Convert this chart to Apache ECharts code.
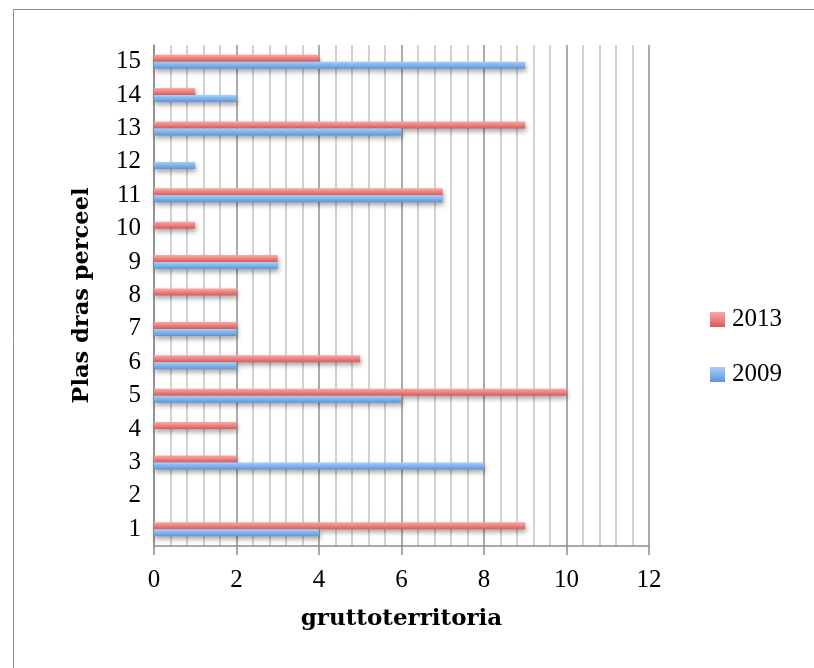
<!DOCTYPE html>
<html>
<head>
<meta charset="utf-8">
<script src="https://cdn.jsdelivr.net/npm/echarts@6/dist/echarts.min.js"></script>
<style>html,body{margin:0;padding:0;background:#fff}#c{width:814px;height:668px}</style>
</head>
<body>
<div id="c"></div>
<script>
const categories = ['1','2','3','4','5','6','7','8','9','10','11','12','13','14','15'];
const values2013 = [9, 0, 2, 2, 10, 5, 2, 2, 3, 1, 7, 0, 9, 1, 4];
const values2009 = [4, 0, 8, 0, 6, 2, 2, 0, 3, 0, 7, 1, 6, 2, 9];
const seriesNames = ['2013', '2009'];
const xTicks = { min: 0, max: 12, interval: 2 };

const font = '"Liberation Serif", "DejaVu Serif", serif';
const titleFont = '"DejaVu Serif", "Liberation Serif", serif';
function grad(c1, c2) {
  return new echarts.graphic.LinearGradient(0, 0, 0, 1, [{offset: 0, color: c1}, {offset: 1, color: c2}]);
}
const redFill = grad('#f9a9a7', '#dc5a56');
const blueFill = grad('#a9cdf8', '#5b97dc');

const chart = echarts.init(document.getElementById('c'));
chart.setOption({
  animation: false,
  graphic: [{
    type: 'rect', shape: {x: 13.5, y: 9.5, width: 812, height: 670},
    style: {fill: 'none', stroke: '#8c8c8c', lineWidth: 1}, silent: true
  }],
  grid: {left: 154, right: 165, top: 45, bottom: 122},
  legend: {
    orient: 'vertical', left: 710, top: 307, itemGap: 30, padding: 0,
    itemWidth: 15, itemHeight: 15, icon: 'rect',
    data: [{name: seriesNames[0], itemStyle: {color: redFill}}, {name: seriesNames[1], itemStyle: {color: blueFill}}],
    textStyle: {fontFamily: font, fontSize: 25, color: '#000', padding: [0, 0, 0, 2]}
  },
  xAxis: {
    type: 'value', min: xTicks.min, max: xTicks.max, interval: xTicks.interval,
    name: 'gruttoterritoria', nameLocation: 'middle', nameGap: 62,
    nameTextStyle: {fontFamily: titleFont, fontSize: 23, fontWeight: 'bold', color: '#000'},
    axisLine: {show: true, lineStyle: {color: '#8c8c8c', width: 1.5}},
    axisTick: {show: true, length: 9, lineStyle: {color: '#8c8c8c', width: 1.5}},
    axisLabel: {fontFamily: font, fontSize: 25, color: '#000', margin: 22},
    splitLine: {show: true, lineStyle: {color: '#8f8f8f', width: 1.5}},
    minorTick: {show: false, splitNumber: 5},
    minorSplitLine: {show: true, lineStyle: {color: '#c4c4c4', width: 1.5}}
  },
  yAxis: {
    type: 'category', data: categories,
    name: 'Plas dras perceel', nameLocation: 'middle', nameGap: 60,
    nameTextStyle: {fontFamily: titleFont, fontSize: 22.5, fontWeight: 'bold', color: '#000'},
    axisLine: {show: true, lineStyle: {color: '#8c8c8c', width: 1.5}},
    axisTick: {show: false},
    axisLabel: {fontFamily: font, fontSize: 25, color: '#000', margin: 13},
    splitLine: {show: false}
  },
  series: [
    {
      name: seriesNames[0], type: 'bar', data: values2013, barWidth: 7, barGap: '0%',
      itemStyle: {color: redFill, shadowColor: 'rgba(0,0,0,0.35)', shadowBlur: 5, shadowOffsetY: 3, shadowOffsetX: 1}
    },
    {
      name: seriesNames[1], type: 'bar', data: values2009, barWidth: 7, barGap: '0%',
      itemStyle: {color: blueFill, shadowColor: 'rgba(0,0,0,0.35)', shadowBlur: 5, shadowOffsetY: 3, shadowOffsetX: 1}
    }
  ]
});
</script>
</body>
</html>
